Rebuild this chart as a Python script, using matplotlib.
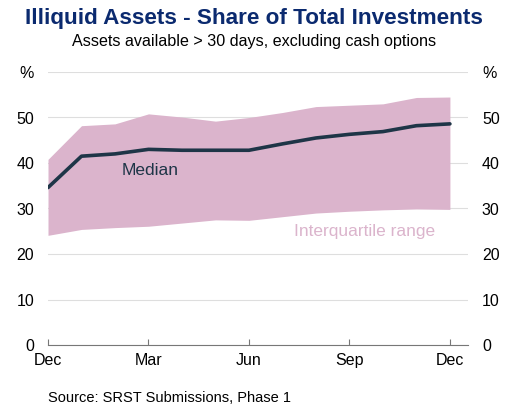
import numpy as np
import matplotlib
matplotlib.use('Agg')
import matplotlib.pyplot as plt

plt.rcParams['font.family'] = ['Liberation Sans', 'DejaVu Sans']

# monthly observations, Dec to Dec
months = np.arange(13)
median = [34.6, 41.5, 42.0, 43.0, 42.8, 42.8, 42.8, 44.2, 45.5, 46.3, 46.9, 48.2, 48.6]
upper = [40.8, 48.2, 48.6, 50.8, 50.1, 49.2, 50.0, 51.1, 52.4, 52.7, 53.0, 54.4, 54.5]
lower = [24.1, 25.4, 25.8, 26.1, 26.8, 27.5, 27.4, 28.2, 29.0, 29.4, 29.7, 29.9, 29.8]
tick_pos = [0, 3, 6, 9, 12]
tick_labels = ['Dec', 'Mar', 'Jun', 'Sep', 'Dec']
yticks = [0, 10, 20, 30, 40, 50, 60]
ylabels = ['0', '10', '20', '30', '40', '50', '%']

fill_col = '#dbb4cc'
line_col = '#1e3547'
grid_col = '#dedede'

fig = plt.figure(figsize=(5.08, 4.15), dpi=100)
ax = fig.add_axes([48/508, 70/415, 420/508, 273/415])

ax.fill_between(months, lower, upper, color=fill_col, lw=0, zorder=2)
ax.plot(months, median, color=line_col, lw=2.6, zorder=3, solid_capstyle='round')

ax.set_xlim(0, 12.54)
ax.set_ylim(0, 60)
ax.set_yticks(yticks)
ax.set_yticklabels(ylabels)
ax.yaxis.grid(True, color=grid_col, lw=0.8, zorder=0)
ax.tick_params(axis='y', length=0, pad=10, labelsize=11.5)
ax.set_xticks(tick_pos)
ax.set_xticklabels(tick_labels)
ax.tick_params(axis='x', direction='in', length=4, color='#777777', labelsize=11.5, pad=6)
for s in ['top', 'left', 'right']:
    ax.spines[s].set_visible(False)
ax.spines['bottom'].set_color('#777777')
ax.spines['bottom'].set_zorder(4)

ax2 = ax.twinx()
ax2.set_ylim(0, 60)
ax2.set_yticks(yticks)
ax2.set_yticklabels(ylabels)
ax2.tick_params(axis='y', length=0, pad=10, labelsize=11.5)
for s in ax2.spines.values():
    s.set_visible(False)

ax.text(2.2, 38.3, 'Median', color=line_col, fontsize=12.5, ha='left', va='center', zorder=5)
ax.text(7.35, 24.9, 'Interquartile range', color=fill_col, fontsize=12.5, ha='left', va='center', zorder=5)

fig.text(0.5, 0.955, 'Illiquid Assets - Share of Total Investments', ha='center', va='center',
         fontsize=16.2, fontweight='bold', color='#0b2a6f')
fig.text(0.5, 0.9, 'Assets available > 30 days, excluding cash options', ha='center', va='center',
         fontsize=11.6, color='black')
fig.text(48/508, 0.042, 'Source: SRST Submissions, Phase 1', ha='left', va='center',
         fontsize=10.5, color='black')

fig.savefig('out.png', dpi=100)
